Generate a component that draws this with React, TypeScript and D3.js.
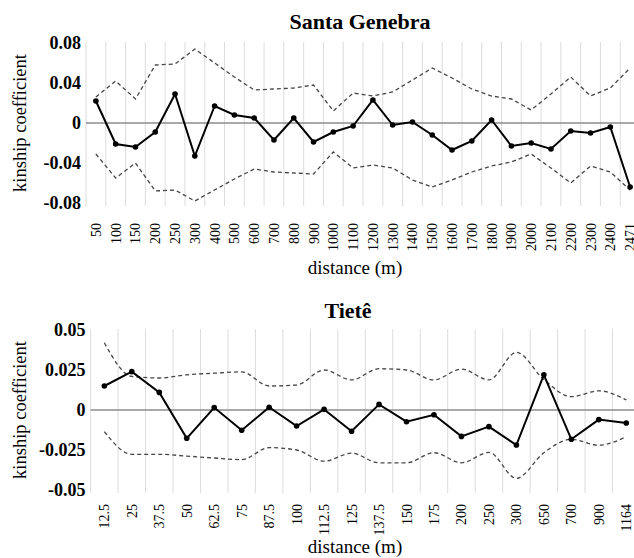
import React from 'react';
import * as d3 from 'd3';

// Santa Genebra
const sgDist = ['50', '100', '150', '200', '250', '300', '400', '500', '600', '700', '800', '900', '1000', '1100',
  '1200', '1300', '1400', '1500', '1600', '1700', '1800', '1900', '2000', '2100', '2200', '2300', '2400', '2471'];
const sgObs = [0.022, -0.021, -0.024, -0.009, 0.029, -0.033, 0.017, 0.008, 0.005, -0.017, 0.005, -0.019, -0.009, -0.003,
  0.023, -0.002, 0.001, -0.012, -0.027, -0.018, 0.003, -0.023, -0.020, -0.026, -0.008, -0.010, -0.004, -0.064];
const sgUpper = [0.026, 0.042, 0.024, 0.058, 0.059, 0.074, 0.060, 0.046, 0.033, 0.034, 0.035, 0.038, 0.012, 0.030,
  0.027, 0.031, 0.043, 0.055, 0.045, 0.034, 0.027, 0.024, 0.013, 0.029, 0.046, 0.027, 0.035, 0.055];
const sgLower = [-0.031, -0.055, -0.040, -0.068, -0.067, -0.078, -0.067, -0.056, -0.046, -0.049, -0.050, -0.051, -0.029, -0.045,
  -0.042, -0.045, -0.057, -0.064, -0.057, -0.049, -0.043, -0.039, -0.031, -0.045, -0.060, -0.043, -0.049, -0.067];
const sgTicks = [-0.08, -0.04, 0, 0.04, 0.08];
const sgTickLabels = ['-0.08', '-0.04', '0', '0.04', '0.08'];

// Tietê
const tDist = ['12.5', '25', '37.5', '50', '62.5', '75', '87.5', '100', '112.5', '125', '137.5', '150', '175', '200',
  '250', '300', '650', '700', '900', '1164'];
const tObs = [0.015, 0.024, 0.011, -0.0177, 0.0015, -0.0127, 0.0017, -0.010, 0.0004, -0.0133, 0.0035, -0.0073, -0.003,
  -0.0165, -0.0104, -0.0219, 0.022, -0.0183, -0.006, -0.0081];
const tUpper = [0.042, 0.021, 0.020, 0.022, 0.023, 0.0238, 0.015, 0.0156, 0.025, 0.0188, 0.0258, 0.025, 0.0188,
  0.0256, 0.0188, 0.036, 0.019, 0.0083, 0.012, 0.0063];
const tLower = [-0.0135, -0.0277, -0.0277, -0.0288, -0.030, -0.031, -0.0235, -0.025, -0.032, -0.027, -0.033, -0.033,
  -0.0267, -0.033, -0.0265, -0.0427, -0.0267, -0.0183, -0.022, -0.0167];
const tTicks = [-0.05, -0.025, 0, 0.025, 0.05];
const tTickLabels = ['-0.05', '-0.025', '0', '0.025', '0.05'];

const FONT = 'Times New Roman';

function Panel(props: any) {
  const { cats, obs, upper, lower, ticks, tickLabels, left, right, top, bottom,
    labelTop, xTitleY, title, titleX, titleY, smooth } = props;
  const x = d3.scaleBand().domain(cats).range([left, right]).padding(0);
  const y = d3.scaleLinear().domain([ticks[0], ticks[ticks.length - 1]]).range([bottom, top]);
  const cx = (i: number) => (x(cats[i]) as number) + x.bandwidth() / 2;

  const band = d3.line<number>()
    .x((d, i) => cx(i))
    .y((d) => y(d))
    .curve(smooth ? d3.curveMonotoneX : d3.curveLinear);
  const line = d3.line<number>()
    .x((d, i) => cx(i))
    .y((d) => y(d));

  return (
    <g>
      {/* vertical grid lines at category boundaries */}
      {cats.map((c: string) => (
        <line key={'g' + c} x1={x(c)} x2={x(c)} y1={top - 1} y2={bottom + 3} stroke="#dcdcdc" strokeWidth={1} />
      ))}
      {/* zero line */}
      <line x1={left} x2={right} y1={y(0)} y2={y(0)} stroke="#8c8c8c" strokeWidth={1.5} />

      {ticks.map((t: number, i: number) => (
        <text key={'y' + i} x={left - 5} y={y(t) + 6}
          fontFamily={FONT} fontSize={18} fontWeight="bold" textAnchor="end">{tickLabels[i]}</text>
      ))}
      {cats.map((c: string, i: number) => (
        <text key={'x' + c} transform={'translate(' + (cx(i) + 5) + ',' + labelTop + ') rotate(-90)'}
          textAnchor="end" fontFamily={FONT} fontSize={14}>{c}</text>
      ))}

      {/* confidence envelope */}
      {[upper, lower].map((arr: number[], k: number) => (
        <path key={'b' + k} d={band(arr) as string} fill="none" stroke="#454545"
          strokeWidth={1.3} strokeDasharray="4,3" />
      ))}

      {/* observed */}
      <path d={line(obs) as string} fill="none" stroke="#000" strokeWidth={2} />
      {obs.map((v: number, i: number) => (
        <circle key={'d' + i} cx={cx(i)} cy={y(v)} r={2.8} fill="#000" />
      ))}

      <text x={titleX} y={titleY} textAnchor="middle" fontFamily={FONT} fontSize={22} fontWeight="bold">{title}</text>
      <text x={355} y={xTitleY} textAnchor="middle" fontFamily={FONT} fontSize={19}>distance (m)</text>
      <text transform={'translate(26,' + (top + bottom) / 2 + ') rotate(-90)'} textAnchor="middle"
        fontFamily={FONT} fontSize={18.5}>kinship coefficient</text>
    </g>
  );
}

export default function App() {
  return (
    <svg width={634} height={558} style={{ position: 'absolute', left: 0, top: 0, fontFamily: 'serif' }}>
      <rect x={0} y={0} width={634} height={558} fill="#fff" />
      <Panel cats={sgDist} obs={sgObs} upper={sgUpper} lower={sgLower}
        ticks={sgTicks} tickLabels={sgTickLabels}
        left={86} right={640} top={43} bottom={203}
        labelTop={223} xTitleY={274} title="Santa Genebra" titleX={360} titleY={29} smooth={false} />
      <Panel cats={tDist} obs={tObs} upper={tUpper} lower={tLower}
        ticks={tTicks} tickLabels={tTickLabels}
        left={90.6} right={640} top={330} bottom={490}
        labelTop={504} xTitleY={553} title="Tietê" titleX={348} titleY={318} smooth={true} />
    </svg>
  );
}
